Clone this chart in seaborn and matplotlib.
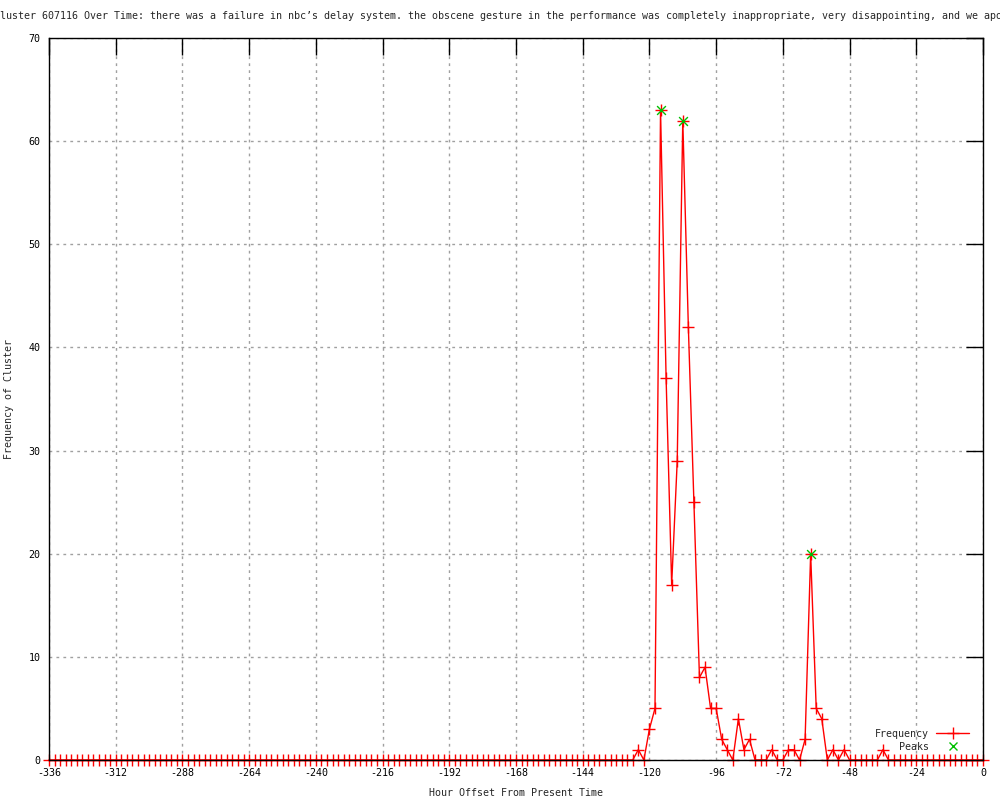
import numpy as np
import pandas as pd
import matplotlib
matplotlib.use("Agg")
import matplotlib.pyplot as plt
import seaborn as sns
from matplotlib.lines import Line2D

# =============================================
# CLUSTER FREQUENCY OVER TIME (gnuplot look)
# =============================================

hours = list(range(-336, 1, 2))
freq = ([0] * 106 +
        [1, 0, 3, 5, 63, 37, 17, 29, 62, 42,
         25, 8, 9, 5, 5, 2, 1, 0, 4, 1,
         2, 0, 0, 0, 1, 0, 0, 1, 1, 0,
         2, 20, 5, 4, 0, 1, 0, 1, 0, 0,
         0, 0, 0, 0, 1] +
        [0] * 18)
peak_hours = [-116, -108, -62]
peak_counts = [63, 62, 20]

x_ticks = list(range(-336, 1, 24))
y_ticks = list(range(0, 71, 10))

title = ("Cluster 607116 Over Time: there was a failure in nbc\u2019s delay system. "
         "the obscene gesture in the performance was completely inappropriate, "
         "very disappointing, and we apologize")

df = pd.DataFrame({"hour": hours, "freq": freq})
peaks = pd.DataFrame({"hour": peak_hours, "freq": peak_counts})

sns.set_style("white")
plt.rcParams["font.family"] = ["DejaVu Sans Mono"]
plt.rcParams["axes.unicode_minus"] = False
fs = 7.2

fig = plt.figure(figsize=(10, 8), dpi=100)
ax = fig.add_axes([0.049, 0.05, 0.934, 0.9025])

sns.lineplot(data=df, x="hour", y="freq", ax=ax, color="red", lw=1.0,
             marker="+", markersize=9, markeredgewidth=1.0,
             markeredgecolor="red", legend=False, zorder=3, clip_on=False)
sns.scatterplot(data=peaks, x="hour", y="freq", ax=ax, color="#00c000",
                marker="x", s=40, linewidth=1.0, legend=False, zorder=4)

ax.set_xlim(-336, 0)
ax.set_ylim(0, 70)
ax.set_xticks(x_ticks)
ax.set_yticks(y_ticks)
ax.tick_params(direction="in", length=12, width=1, top=True, right=True,
               labelsize=fs, colors="black", pad=6)
ax.grid(True, color="#a0a0a0", linestyle=(0, (2, 3)), lw=1)
ax.set_axisbelow(True)
for sp in ax.spines.values():
    sp.set_color("black")
    sp.set_linewidth(1)
    sp.set_zorder(5)

ax.set_xlabel("Hour Offset From Present Time", fontsize=fs, labelpad=7)
ax.set_ylabel("Frequency of Cluster", fontsize=fs)
ax.yaxis.set_label_coords(-0.038, 0.5)

fig.text(0.516, 1 - 16 / 800, title, ha="center", va="center", fontsize=fs)

handles = [
    Line2D([], [], color="red", lw=1.0, marker="+", markersize=9, markeredgewidth=1.0),
    Line2D([], [], color="#00c000", lw=0, marker="x", markersize=6, markeredgewidth=1.0),
]
ax.legend(handles, ["Frequency", "Peaks"], loc="lower right",
          bbox_to_anchor=(0.995, -0.001), frameon=False, markerfirst=False,
          fontsize=fs, handlelength=3.3, handletextpad=0.7, labelspacing=0.3)

fig.savefig("out.png", dpi=100)
